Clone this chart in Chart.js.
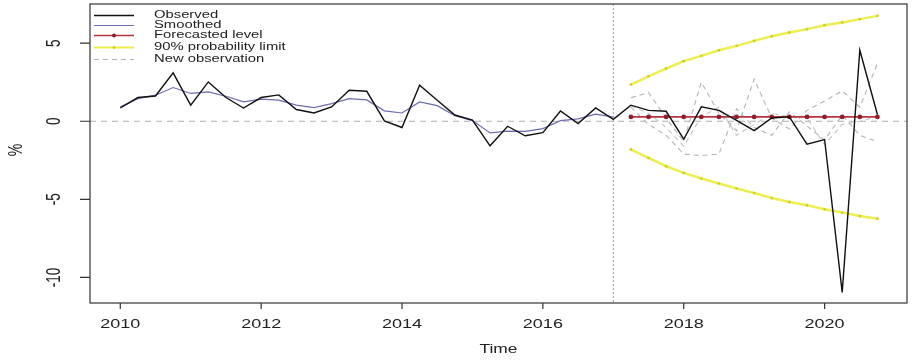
<!DOCTYPE html>
<html><head><meta charset="utf-8">
<script src="https://cdn.jsdelivr.net/npm/chart.js@4.4.0/dist/chart.umd.min.js"></script>
<style>html,body{margin:0;padding:0;background:#fff;overflow:hidden}#wrap{width:912px;height:361px}</style>
</head><body><div id="wrap"><canvas id="c" width="912" height="361"></canvas></div>
<script>
// ---- data (quarterly, first quarter = 2010.00) ----
const startYear = 2010;
const observed = [0.85,1.52,1.62,3.10, 1.03,2.52,1.52,0.85, 1.52,1.69,0.75,0.53, 0.92,1.99,1.92,0.02,
  -0.40,2.31,1.35,0.40, 0.08,-1.57,-0.32,-0.93, -0.73,0.66,-0.15,0.85, 0.12,1.03,0.70,0.64,
  -1.15,0.92,0.70,0.06, -0.60,0.21,0.28,-1.47, -1.17,-10.96,4.55,0.43];
const smoothed = [0.92,1.45,1.67,2.16, 1.78,1.88,1.60,1.24, 1.42,1.35,1.03,0.88, 1.13,1.45,1.37,0.67,
  0.53,1.24,1.00,0.35, 0.04,-0.75,-0.63,-0.65, -0.47,0.04,0.15,0.45, 0.26];
const forecastStartIndex = 29; // 2017 Q2
const forecastLevel = [0.28,0.28,0.28,0.28,0.28,0.28,0.28,0.28,0.28,0.28,0.28,0.28,0.28,0.28,0.28];
const upperLimit = [2.35,2.88,3.38,3.85,4.19,4.55,4.83,5.15,5.45,5.69,5.90,6.15,6.33,6.54,6.75];
const lowerLimit = [-1.81,-2.35,-2.88,-3.31,-3.67,-3.99,-4.31,-4.60,-4.92,-5.17,-5.38,-5.64,-5.85,-6.07,-6.24];
const newObsA = [1.50,1.85,0.20,-1.30,2.50,0.50,-0.60,2.70,0.20,-0.50,0.70,1.30,1.95,0.90,3.70];
const newObsB = [0.90,-0.20,-0.90,-2.10,-2.20,-2.10,0.80,-0.40,-0.90,0.60,-0.30,-1.20,0.40,-0.90,-1.30];
const newObsC = [1.00,0.50,-0.40,-1.60,0.30,0.90,-0.90,-0.20,0.50,0.30,0.20,-1.50,-0.20,0.00,0.30];
const forecastOrigin = 2017;
const xTickValues = [2010,2012,2014,2016,2018,2020];
const yTickValues = [-10,-5,0,5];
const xRange = [2009.57, 2021.17];
const yRange = [-11.64, 7.51];
const legendLabels = ['Observed','Smoothed','Forecasted level','90% probability limit','New observation'];

// ---- build point lists ----
const q = i => startYear + i / 4;
const pts = (arr, off) => arr.map((v, i) => ({x: q(i + off), y: v}));

const FONT = '"Liberation Sans", Arial, sans-serif';
const TXT = '#222';
const YEL = 'rgba(236,236,56,0.88)';

const datasets = [
  {label: legendLabels[0], data: pts(observed, 0), borderColor: '#111', borderWidth: 1.4, pointRadius: 0, tension: 0},
  {label: legendLabels[2], data: pts(forecastLevel, forecastStartIndex), borderColor: '#b53540', borderWidth: 1.6,
    pointRadius: 2.4, pointBackgroundColor: '#8e1f2c', pointBorderWidth: 0, tension: 0},
  {label: legendLabels[1], data: pts(smoothed, 0), borderColor: '#6d6db0', borderWidth: 1.2, pointRadius: 0, tension: 0},
  {label: legendLabels[3], data: pts(upperLimit, forecastStartIndex), borderColor: YEL, borderWidth: 2.5,
    pointRadius: 1.4, pointBackgroundColor: '#d2d020', pointBorderWidth: 0, tension: 0},
  {label: legendLabels[3], legendHidden: true, data: pts(lowerLimit, forecastStartIndex), borderColor: YEL, borderWidth: 2.5,
    pointRadius: 1.4, pointBackgroundColor: '#d2d020', pointBorderWidth: 0, tension: 0},
  {label: legendLabels[4], data: pts(newObsA, forecastStartIndex), borderColor: '#b4b4b4', borderWidth: 1.1, borderDash: [5,4], pointRadius: 0, tension: 0},
  {label: legendLabels[4], legendHidden: true, data: pts(newObsB, forecastStartIndex), borderColor: '#b4b4b4', borderWidth: 1.1, borderDash: [5,4], pointRadius: 0, tension: 0},
  {label: legendLabels[4], legendHidden: true, data: pts(newObsC, forecastStartIndex), borderColor: '#c4c4c4', borderWidth: 1.1, borderDash: [5,4], pointRadius: 0, tension: 0}
];

function stretchedText(ctx, text, x, y, size, sx, align, rotate) {
  ctx.save();
  ctx.translate(x, y);
  ctx.scale(sx, 1);
  if (rotate) ctx.rotate(-Math.PI / 2);
  ctx.font = size + 'px ' + FONT;
  ctx.fillStyle = TXT;
  ctx.textAlign = align;
  ctx.textBaseline = 'middle';
  ctx.fillText(text, 0, 0);
  ctx.restore();
}

const refLines = {
  id: 'refLines',
  beforeDatasetsDraw(chart) {
    const {ctx, chartArea: a, scales: {x, y}} = chart;
    ctx.save();
    ctx.beginPath(); ctx.rect(a.left, a.top, a.right - a.left, a.bottom - a.top); ctx.clip();
    ctx.strokeStyle = '#b0b0b0'; ctx.lineWidth = 1.1; ctx.setLineDash([6,5]);
    const y0 = y.getPixelForValue(0);
    ctx.beginPath(); ctx.moveTo(a.left, y0); ctx.lineTo(a.right, y0); ctx.stroke();
    ctx.strokeStyle = '#9a9a9a'; ctx.lineWidth = 1; ctx.setLineDash([2,2]);
    const xv = x.getPixelForValue(forecastOrigin);
    ctx.beginPath(); ctx.moveTo(xv, a.top); ctx.lineTo(xv, a.bottom); ctx.stroke();
    ctx.restore();
  }
};

const frame = {
  id: 'frame',
  afterDraw(chart) {
    const {ctx, chartArea: a, scales: {x, y}} = chart;
    ctx.save();
    ctx.strokeStyle = '#333'; ctx.lineWidth = 1.2; ctx.setLineDash([]);
    ctx.strokeRect(a.left, a.top, a.right - a.left, a.bottom - a.top);
    ctx.beginPath();
    x.ticks.forEach(t => { const px = x.getPixelForValue(t.value); ctx.moveTo(px, a.bottom); ctx.lineTo(px, a.bottom + 6); });
    y.ticks.forEach(t => { const py = y.getPixelForValue(t.value); ctx.moveTo(a.left, py); ctx.lineTo(a.left - 10, py); });
    ctx.stroke();
    ctx.restore();
    x.ticks.forEach(t => stretchedText(ctx, String(t.value), x.getPixelForValue(t.value), 324.5, 12, 1.5, 'center', false));
    y.ticks.forEach(t => stretchedText(ctx, String(t.value), 55, y.getPixelForValue(t.value), 13.5, 1.45, 'center', true));
    stretchedText(ctx, 'Time', (a.left + a.right) / 2, 350, 12, 1.45, 'center', false);
    stretchedText(ctx, '%', 16, 150, 14, 1.45, 'center', true);

    // legend
    const rows = [15.5, 25.5, 35.5, 47.5, 59.5];
    const x0 = 94, x1 = 134, tx = 154;
    legendLabels.forEach((lbl, i) => {
      const d = chart.data.datasets.find(ds => ds.label === lbl && !ds.legendHidden);
      const yy = rows[i];
      ctx.save();
      ctx.strokeStyle = d.borderColor; ctx.lineWidth = Math.min(d.borderWidth, 2.2);
      ctx.setLineDash(d.borderDash || []);
      ctx.beginPath(); ctx.moveTo(x0, yy); ctx.lineTo(x1, yy); ctx.stroke();
      if (d.pointRadius > 0) {
        ctx.fillStyle = d.pointBackgroundColor;
        ctx.beginPath(); ctx.arc((x0 + x1) / 2, yy, Math.min(d.pointRadius, 2), 0, Math.PI * 2); ctx.fill();
      }
      ctx.restore();
      stretchedText(ctx, d.label, tx, yy, 10, 1.48, 'left', false);
    });
  }
};

new Chart(document.getElementById('c'), {
  type: 'line',
  data: {datasets},
  options: {
    responsive: false, animation: false, devicePixelRatio: 1,
    layout: {padding: {top: 4, right: 5, left: 0, bottom: 0}},
    plugins: {legend: {display: false}, tooltip: {enabled: false}},
    elements: {line: {fill: false}},
    scales: {
      x: {type: 'linear', min: xRange[0], max: xRange[1],
        afterBuildTicks: s => { s.ticks = xTickValues.map(v => ({value: v})); },
        afterFit: s => { s.height = 58; },
        grid: {display: false}, border: {display: false}, ticks: {display: false}},
      y: {type: 'linear', min: yRange[0], max: yRange[1],
        afterBuildTicks: s => { s.ticks = yTickValues.map(v => ({value: v})); },
        afterFit: s => { s.width = 90; },
        grid: {display: false}, border: {display: false}, ticks: {display: false}}
    }
  },
  plugins: [refLines, frame]
});
</script></body></html>
